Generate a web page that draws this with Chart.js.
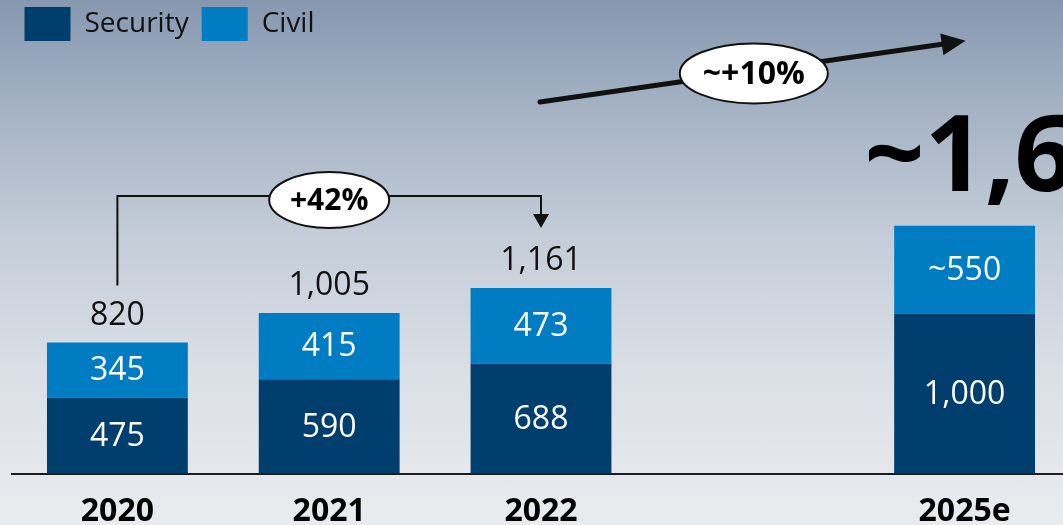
<!DOCTYPE html>
<html lang="en">
<head>
<meta charset="UTF-8">
<title>Security / Civil</title>
<script src="https://cdn.jsdelivr.net/npm/chart.js"></script>
<style>
    html, body { margin: 0; padding: 0; width: 1063px; height: 525px; overflow: hidden; }
    body {
        position: relative;
        background: linear-gradient(to bottom, #8698b0 0%, #a6b4c5 22%, #c4cdd8 45%, #dadfe6 70%, #e9ecef 100%);
    }
    #wrap { position: absolute; left: 0; top: -6px; width: 1071px; height: 556px; }
</style>
</head>
<body>
<div id="wrap"><canvas id="chart" width="1071" height="556"></canvas></div>
<script>
// data
const years = ['2020', '2021', '2022', '', '2025e'];
const security = [475, 590, 688, null, 1000];
const civil = [345, 415, 473, null, 550];
const approxCivil = [false, false, false, false, true];
const showTotal = [true, true, true, false, false];
const growthLabel = '+42%';
const outlookLabel = '~+10%';
const outlookTotal = '~1,6';

const family = "'Open Sans', 'Noto Sans', sans-serif";
const fmt = v => v.toLocaleString('en-US');

// labels, brackets and arrows on top of the bars
const overlay = {
    id: 'overlay',
    afterDatasetsDraw(chart) {
        const ctx = chart.ctx;
        const civMeta = chart.getDatasetMeta(1);
        ctx.save();
        ctx.textAlign = 'center';
        ctx.textBaseline = 'middle';

        // values inside the segments
        ctx.font = '32px ' + family;
        ctx.fillStyle = '#ffffff';
        chart.data.datasets.forEach((ds, d) => {
            chart.getDatasetMeta(d).data.forEach((bar, i) => {
                if (ds.data[i] == null) return;
                const txt = (d === 1 && approxCivil[i] ? '~' : '') + fmt(ds.data[i]);
                ctx.fillText(txt, bar.x, (bar.y + bar.base) / 2 + 1);
            });
        });

        // totals above the bars
        ctx.fillStyle = '#111111';
        years.forEach((y, i) => {
            if (!showTotal[i]) return;
            const top = civMeta.data[i];
            ctx.fillText(fmt(security[i] + civil[i]), top.x, top.y - 27);
        });

        // +42% bracket 2020 -> 2022
        const b0 = civMeta.data[0], b1 = civMeta.data[1], b2 = civMeta.data[2], b4 = civMeta.data[4];
        const bracketY = b2.y - 92;
        const tipY = b2.y - 60;
        ctx.strokeStyle = '#111111';
        ctx.fillStyle = '#111111';
        ctx.lineWidth = 2;
        ctx.beginPath();
        ctx.moveTo(b0.x, b0.y - 57);
        ctx.lineTo(b0.x, bracketY);
        ctx.lineTo(b2.x, bracketY);
        ctx.lineTo(b2.x, tipY - 12);
        ctx.stroke();
        ctx.beginPath();
        ctx.moveTo(b2.x - 8, tipY - 14);
        ctx.lineTo(b2.x + 8, tipY - 14);
        ctx.lineTo(b2.x, tipY);
        ctx.closePath();
        ctx.fill();
        bubble(ctx, b1.x, bracketY + 4, 60, 28, growthLabel, 30);

        // ~+10% arrow 2022 -> 2025e
        const xs = b2.x - 1, ys = b2.y - 186;
        const xe = b4.x + 1, ye = b4.y - 185;
        const ang = Math.atan2(ye - ys, xe - xs);
        const head = 24;
        ctx.lineWidth = 5;
        ctx.lineCap = 'round';
        ctx.beginPath();
        ctx.moveTo(xs, ys);
        ctx.lineTo(xe - head * Math.cos(ang), ye - head * Math.sin(ang));
        ctx.stroke();
        ctx.beginPath();
        ctx.moveTo(xe, ye);
        ctx.lineTo(xe - head * Math.cos(ang) + 11 * Math.sin(ang), ye - head * Math.sin(ang) - 11 * Math.cos(ang));
        ctx.lineTo(xe - head * Math.cos(ang) - 11 * Math.sin(ang), ye - head * Math.sin(ang) + 11 * Math.cos(ang));
        ctx.closePath();
        ctx.fill();
        bubble(ctx, (xs + xe) / 2 + 1, (ys + ye) / 2 + 2, 74, 30, outlookLabel, 32);

        // big outlook total
        ctx.fillStyle = '#000000';
        ctx.textAlign = 'left';
        ctx.textBaseline = 'alphabetic';
        ctx.font = 'bold 105px ' + family;
        ctx.fillText(outlookTotal, b4.x - 100, b4.y - 35);
        ctx.restore();
    }
};

function bubble(ctx, x, y, rx, ry, text, size) {
    ctx.save();
    ctx.beginPath();
    ctx.ellipse(x, y, rx, ry, 0, 0, Math.PI * 2);
    ctx.fillStyle = '#ffffff';
    ctx.fill();
    ctx.lineWidth = 2;
    ctx.strokeStyle = '#111111';
    ctx.stroke();
    ctx.fillStyle = '#000000';
    ctx.font = 'bold ' + size + 'px ' + family;
    ctx.textAlign = 'center';
    ctx.textBaseline = 'middle';
    ctx.fillText(text, x, y + 1);
    ctx.restore();
}

new Chart(document.getElementById('chart'), {
    type: 'bar',
    data: {
        labels: years,
        datasets: [
            { label: 'Security', data: security, backgroundColor: '#003f6d', barPercentage: 0.665, categoryPercentage: 1 },
            { label: 'Civil', data: civil, backgroundColor: '#007dc2', barPercentage: 0.665, categoryPercentage: 1 }
        ]
    },
    options: {
        responsive: false,
        animation: false,
        layout: { padding: { left: 11.5, right: 0.5, top: 0, bottom: 0 } },
        plugins: {
            legend: {
                position: 'top',
                align: 'start',
                labels: { boxWidth: 46, boxHeight: 34, padding: 13, color: '#111111', font: { family: family, size: 28 } }
            },
            tooltip: { enabled: false }
        },
        scales: {
            x: {
                stacked: true,
                grid: { display: false, drawTicks: false },
                border: { display: true, color: '#1c1c1c', width: 2 },
                ticks: { color: '#000000', padding: 19, font: { family: family, size: 32, weight: 'bold' } }
            },
            y: { stacked: true, display: false, min: 0, max: 2644 }
        }
    },
    plugins: [overlay]
});
</script>
</body>
</html>
